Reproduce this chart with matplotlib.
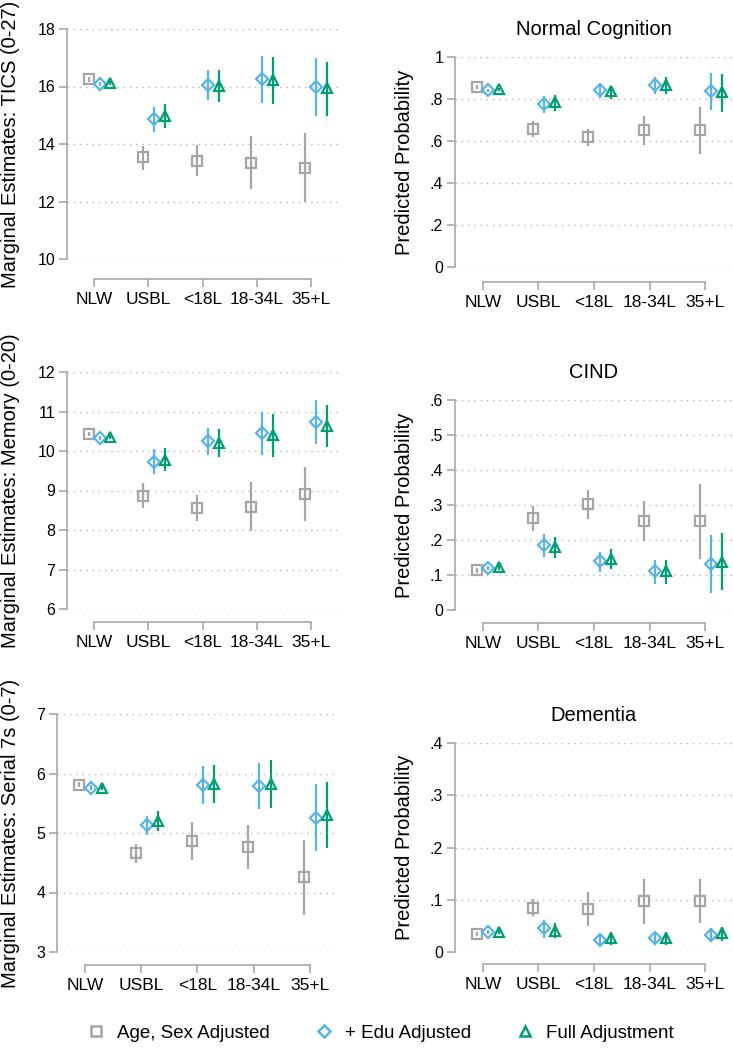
import matplotlib
matplotlib.use("Agg")
import matplotlib.pyplot as plt
from matplotlib.lines import Line2D
import numpy as np

plt.rcParams['font.family'] = ['Liberation Sans', 'DejaVu Sans']

# categories / series
groups = ['NLW', 'USBL', '<18L', '18-34L', '35+L']
series = ['Age, Sex Adjusted', '+ Edu Adjusted', 'Full Adjustment']

# TICS (0-27): rows = age/sex, +edu, full
tics_est = [[16.25, 13.55, 13.42, 13.35, 13.18],
            [16.10, 14.86, 16.05, 16.26, 15.99],
            [16.11, 14.98, 16.03, 16.22, 15.96]]
tics_lo = [[16.17, 13.11, 12.88, 12.45, 11.98],
           [16.03, 14.42, 15.53, 15.41, 14.98],
           [16.04, 14.56, 15.47, 15.38, 14.98]]
tics_hi = [[16.33, 13.93, 13.96, 14.27, 14.39],
           [16.17, 15.29, 16.58, 17.07, 16.98],
           [16.18, 15.38, 16.58, 17.04, 16.86]]

# Normal cognition
norm_est = [[0.857, 0.656, 0.619, 0.653, 0.650],
            [0.842, 0.774, 0.841, 0.866, 0.836],
            [0.846, 0.785, 0.836, 0.866, 0.833]]
norm_lo = [[0.848, 0.618, 0.576, 0.581, 0.537],
           [0.834, 0.732, 0.807, 0.825, 0.748],
           [0.838, 0.744, 0.799, 0.825, 0.739]]
norm_hi = [[0.866, 0.693, 0.659, 0.720, 0.763],
           [0.850, 0.812, 0.873, 0.903, 0.925],
           [0.854, 0.820, 0.863, 0.906, 0.917]]

# Memory (0-20)
mem_est = [[10.43, 8.86, 8.55, 8.59, 8.91],
           [10.33, 9.73, 10.25, 10.45, 10.73],
           [10.35, 9.78, 10.21, 10.40, 10.64]]
mem_lo = [[10.38, 8.56, 8.23, 7.97, 8.24],
          [10.28, 9.41, 9.91, 9.90, 10.18],
          [10.30, 9.49, 9.86, 9.85, 10.09]]
mem_hi = [[10.48, 9.18, 8.88, 9.21, 9.60],
          [10.38, 10.05, 10.58, 11.00, 11.28],
          [10.40, 10.07, 10.55, 10.93, 11.16]]

# CIND
cind_est = [[0.114, 0.262, 0.302, 0.254, 0.254],
            [0.120, 0.185, 0.140, 0.111, 0.132],
            [0.122, 0.180, 0.145, 0.111, 0.137]]
cind_lo = [[0.107, 0.226, 0.260, 0.197, 0.146],
           [0.113, 0.152, 0.110, 0.075, 0.049],
           [0.115, 0.149, 0.116, 0.074, 0.056]]
cind_hi = [[0.121, 0.298, 0.342, 0.311, 0.361],
           [0.127, 0.218, 0.167, 0.144, 0.214],
           [0.129, 0.209, 0.173, 0.144, 0.219]]

# Serial 7s (0-7)
s7_est = [[5.81, 4.66, 4.86, 4.76, 4.26],
          [5.76, 5.13, 5.80, 5.79, 5.26],
          [5.76, 5.20, 5.82, 5.82, 5.30]]
s7_lo = [[5.77, 4.50, 4.54, 4.39, 3.63],
         [5.72, 4.96, 5.48, 5.41, 4.70],
         [5.72, 5.03, 5.50, 5.42, 4.75]]
s7_hi = [[5.85, 4.81, 5.19, 5.14, 4.88],
         [5.80, 5.29, 6.13, 6.18, 5.83],
         [5.80, 5.37, 6.15, 6.22, 5.85]]

# Dementia
dem_est = [[0.034, 0.085, 0.083, 0.097, 0.098],
           [0.038, 0.045, 0.023, 0.026, 0.032],
           [0.039, 0.041, 0.026, 0.027, 0.036]]
dem_lo = [[0.030, 0.068, 0.050, 0.053, 0.056],
          [0.034, 0.027, 0.013, 0.013, 0.020],
          [0.035, 0.027, 0.013, 0.013, 0.022]]
dem_hi = [[0.038, 0.102, 0.115, 0.140, 0.140],
          [0.042, 0.061, 0.032, 0.037, 0.045],
          [0.043, 0.055, 0.038, 0.039, 0.048]]

colors = ['#a5a5a5', '#56b4e9', '#009e73']
markers = ['s', 'D', '^']
msizes = [6.5, 6.5, 6.5]
offsets = [-0.1, 0.1, 0.3]
axis_grey = '#a8a8a8'

W, H = 733, 1050
fig = plt.figure(figsize=(W / 100, H / 100), dpi=100)


def px_axes(x0, y0, x1, y1):
    # pixel box (top-left origin) -> figure axes
    return fig.add_axes([x0 / W, 1 - y1 / H, (x1 - x0) / W, (y1 - y0) / H])


def prob_fmt(v):
    if v == 0:
        return '0'
    if v == 1:
        return '1'
    return ('%g' % round(v, 2)).lstrip('0')


def panel(box, est, lo, hi, yticks, ylabel, xoff, labx, title=None, prob=False):
    ax = px_axes(*box)
    x = np.arange(len(groups))
    for i in range(3):
        xs = x + offsets[i]
        ax.vlines(xs, lo[i], hi[i], color=colors[i], lw=1.6, zorder=3)
        ax.plot(xs, est[i], ls='none', marker=markers[i], ms=msizes[i],
                mfc='none', mec=colors[i], mew=1.6, zorder=4)
    ax.set_xlim(-0.5, 4.5)
    ax.set_ylim(yticks[0], yticks[-1])
    ax.set_yticks(yticks)
    if prob:
        ax.set_yticklabels([prob_fmt(v) for v in yticks])
    else:
        ax.set_yticklabels(['%g' % v for v in yticks])
    ax.set_xticks(x)
    ax.set_xticklabels(groups)
    for s in ['top', 'right']:
        ax.spines[s].set_visible(False)
    ax.spines['left'].set_bounds(yticks[0], yticks[-1])
    ax.spines['bottom'].set_bounds(0, 4)
    ax.spines['bottom'].set_position(('outward', xoff * 0.72))
    for s in ['left', 'bottom']:
        ax.spines[s].set_color(axis_grey)
        ax.spines[s].set_linewidth(1.2)
    ax.tick_params(axis='both', colors=axis_grey, labelcolor='black',
                   width=1.2, length=5.5)
    ax.tick_params(axis='y', pad=3, labelsize=11.5)
    ax.tick_params(axis='x', pad=4, labelsize=12.5)
    ax.yaxis.grid(True, ls=(0, (1, 3.5)), color='#b5b5b5', lw=1)
    ax.set_axisbelow(True)
    ax.set_ylabel(ylabel, fontsize=14.5)
    ax.yaxis.set_label_coords((labx - box[0]) / (box[2] - box[0]), 0.5)
    if title:
        ax.set_title(title, fontsize=14.5, pad=16)
    return ax


panel((67, 29, 338, 259), tics_est, tics_lo, tics_hi, [10, 12, 14, 16, 18],
      'Marginal Estimates: TICS (0-27)', 20, 20)
panel((455, 57, 733, 267), norm_est, norm_lo, norm_hi, [0, .2, .4, .6, .8, 1],
      'Predicted Probability', 15, 414, title='Normal Cognition', prob=True)
panel((67, 372, 338, 609), mem_est, mem_lo, mem_hi, [6, 7, 8, 9, 10, 11, 12],
      'Marginal Estimates: Memory (0-20)', 13, 20)
panel((455, 400, 733, 610), cind_est, cind_lo, cind_hi, [0, .1, .2, .3, .4, .5, .6],
      'Predicted Probability', 13, 414, title='CIND', prob=True)
panel((57, 714, 338, 952), s7_est, s7_lo, s7_hi, [3, 4, 5, 6, 7],
      'Marginal Estimates: Serial 7s (0-7)', 13, 20)
panel((455, 743, 733, 952), dem_est, dem_lo, dem_hi, [0, .1, .2, .3, .4],
      'Predicted Probability', 12, 414, title='Dementia', prob=True)

handles = [Line2D([], [], ls='none', marker=markers[i], ms=msizes[i], mfc='none',
                  mec=colors[i], mew=1.8) for i in range(3)]
fig.legend(handles, series, loc='center', bbox_to_anchor=(380 / W, 1 - 1033 / H),
           ncol=3, frameon=False, fontsize=13.5, handlelength=1.0,
           handletextpad=0.6, columnspacing=2.4)

fig.savefig('out.png', dpi=100)
